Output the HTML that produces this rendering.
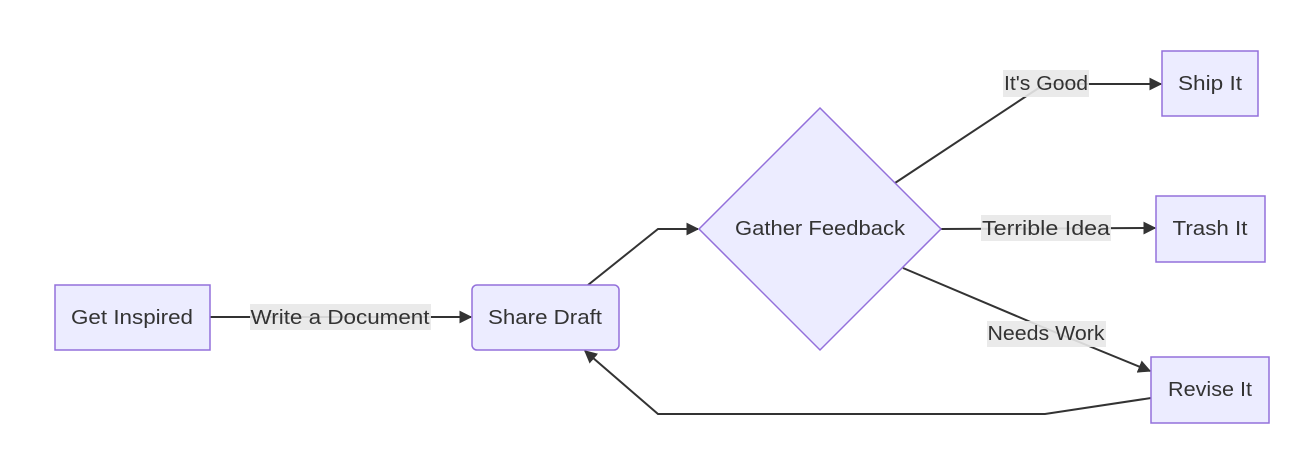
<!DOCTYPE html>
<html><head><meta charset="utf-8"><style>
html,body{margin:0;padding:0;background:#fff;}
svg{display:block;}
text{font-family:"Liberation Sans","DejaVu Sans",sans-serif;font-size:20px;fill:#333;}
</style></head><body>
<svg width="1306" height="464" viewBox="0 0 1306 464" xmlns="http://www.w3.org/2000/svg">
<defs>
<marker id="a" viewBox="0 0 10 10" refX="9" refY="5" markerWidth="13" markerHeight="13" orient="auto" markerUnits="userSpaceOnUse" >
<path d="M0,0 L10,5 L0,10 z" fill="#333"/></marker>
</defs>
<g fill="none" stroke="#333" stroke-width="2">
<path d="M210,317 L471,317" marker-end="url(#a)"/>
<path d="M588,285 L658,229 L698,229" marker-end="url(#a)"/>
<path d="M895,183 L1028,95 L1045,84 L1161,84" marker-end="url(#a)"/>
<path d="M941,229 L1155,228" marker-end="url(#a)"/>
<path d="M903,268 L1040,326 L1150,371" marker-end="url(#a)"/>
<path d="M1151,398 L1045,414 L658,414 L585,351" marker-end="url(#a)"/>
</g>
<g fill="#ECECFF" stroke="#9370DB" stroke-width="1.5">
<rect x="55" y="285" width="155" height="65"/>
<rect x="472" y="285" width="147" height="65" rx="5"/>
<polygon points="820,108 941,229 820,350 699,229"/>
<rect x="1162" y="51" width="96" height="65"/>
<rect x="1156" y="196" width="109" height="66"/>
<rect x="1151" y="357" width="118" height="66"/>
</g>
<g fill="rgba(232,232,232,0.9)">
<rect x="250" y="304" width="181" height="26"/>
<rect x="1003" y="70" width="86" height="27"/>
<rect x="981" y="215" width="130" height="26"/>
<rect x="987" y="321" width="119" height="26"/>
</g>
<g text-anchor="middle" dominant-baseline="central">
<text x="132" y="318" textLength="122" lengthAdjust="spacingAndGlyphs">Get Inspired</text>
<text x="545" y="318" textLength="114" lengthAdjust="spacingAndGlyphs">Share Draft</text>
<text x="820" y="229" textLength="170" lengthAdjust="spacingAndGlyphs">Gather Feedback</text>
<text x="1210" y="84" textLength="64" lengthAdjust="spacingAndGlyphs">Ship It</text>
<text x="1210" y="229" textLength="75" lengthAdjust="spacingAndGlyphs">Trash It</text>
<text x="1210" y="390" textLength="84" lengthAdjust="spacingAndGlyphs">Revise It</text>
<text x="340" y="318" textLength="179" lengthAdjust="spacingAndGlyphs">Write a Document</text>
<text x="1046" y="84" textLength="84" lengthAdjust="spacingAndGlyphs">It's Good</text>
<text x="1046" y="229" textLength="128" lengthAdjust="spacingAndGlyphs">Terrible Idea</text>
<text x="1046" y="334" textLength="117" lengthAdjust="spacingAndGlyphs">Needs Work</text>
</g>
</svg>
</body></html>
